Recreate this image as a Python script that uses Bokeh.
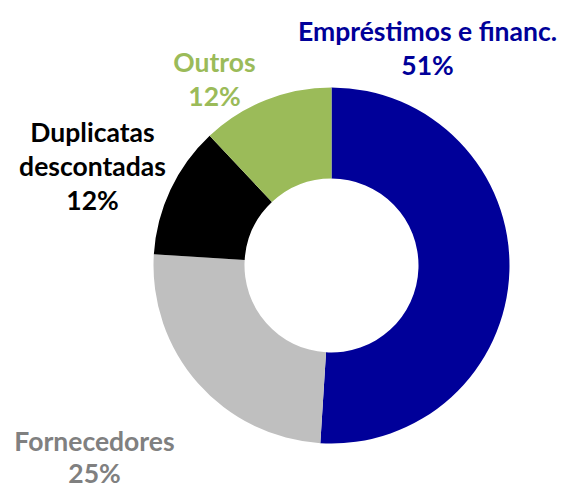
import math
from bokeh.plotting import figure
from bokeh.models import ColumnDataSource, Range1d
from bokeh.core.properties import value
from bokeh.embed import file_html
from bokeh.resources import INLINE

categories = ["Empréstimos e financ.", "Fornecedores", "Duplicatas descontadas", "Outros"]
shares = [51, 25, 12, 12]
colors = ["#000099", "#BFBFBF", "#000000", "#9BBB59"]
label_colors = ["#000099", "#808080", "#000000", "#9BBB59"]
label_lines = [["Empréstimos e financ."], ["Fornecedores"], ["Duplicatas", "descontadas"], ["Outros"]]

W, H = 571, 488
p = figure(width=W, height=H, output_backend="svg", toolbar_location=None,
           x_range=Range1d(0, W), y_range=Range1d(0, H), min_border=0)
p.axis.visible = False
p.grid.visible = False
p.outline_line_color = None
p.background_fill_color = "white"

def px(X, Y):
    return X, H - Y

cx, cy = px(331, 265)
total = sum(shares)
starts, ends = [], []
acc = 0.0
for s in shares:
    a0 = math.pi / 2 - 2 * math.pi * acc / total
    acc += s
    a1 = math.pi / 2 - 2 * math.pi * acc / total
    starts.append(a0)
    ends.append(a1)

src = ColumnDataSource(dict(x=[cx] * 4, y=[cy] * 4, start=starts, end=ends, color=colors))
p.annular_wedge(x="x", y="y", inner_radius=87, outer_radius=178, start_angle="start",
                end_angle="end", direction="clock", fill_color="color", line_color=None,
                source=src, inner_radius_units="data", outer_radius_units="data")

# label anchor positions (image pixels: centre x, first line centre y, line gap)
anchors = [(427, 30, 34), (94, 440, 32), (92, 131, 34), (214, 61, 34)]
xs, ys, txt, cols = [], [], [], []
for i, (ax, ay, gap) in enumerate(anchors):
    lines = label_lines[i] + [f"{shares[i]}%"]
    for j, t in enumerate(lines):
        x, y = px(ax, ay + j * gap)
        xs.append(x); ys.append(y); txt.append(t); cols.append(label_colors[i])

tsrc = ColumnDataSource(dict(x=xs, y=ys, text=txt, color=cols))
p.text(x="x", y="y", text="text", text_color="color", source=tsrc,
       text_font=value("Lato"), text_font_style="bold", text_font_size="26.5px",
       text_align="center", text_baseline="middle")

open("out.html", "w").write(file_html(p, INLINE))
